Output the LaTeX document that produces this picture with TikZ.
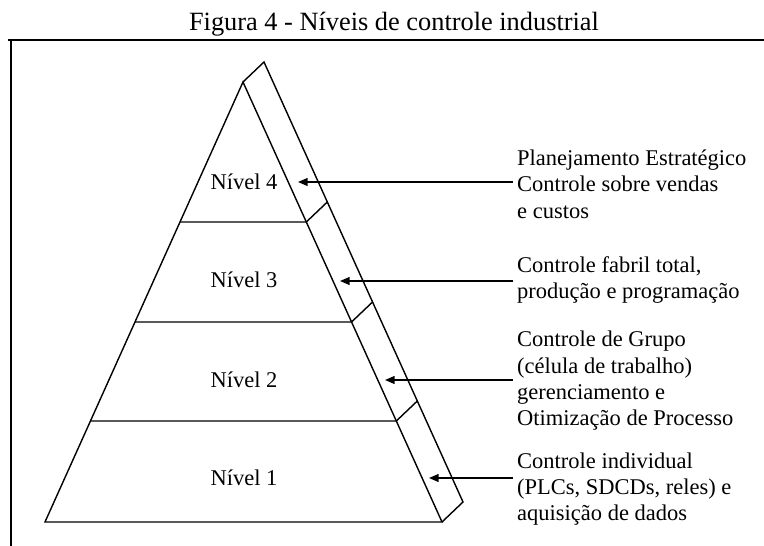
\documentclass[tikz,border=0pt]{standalone}
\usepackage{fontspec}
\setmainfont{Liberation Serif}
\usetikzlibrary{arrows.meta,calc}

\begin{document}
\begin{tikzpicture}[x=0.02cm,y=-0.02cm,line width=0.8pt,
        rotulo/.style = {anchor=west,align=left,inner xsep=2pt,inner ysep=0pt,font=\fontsize{12.8}{15}\selectfont},
        nivel/.style = {font=\fontsize{12.8}{15}\selectfont},
        seta/.style = {-{Triangle[length=5.5pt,width=4.5pt]}}]
    \useasboundingbox (0,0) rectangle (764,546);
    % moldura e titulo
    \draw [line width=1pt] (764,40) -- (8,40);
    \draw [line width=1pt] (11,40) -- (11,546);
    \node [font=\fontsize{15}{18}\selectfont] (titulo) at (394,24) {Figura 4 - Níveis de controle industrial};
    % piramide
    \coordinate (topo) at (243,82);
    \coordinate (base e) at (45,522);
    \coordinate (base d) at (442,522);
    \draw (base e) -- (topo) -- (base d) -- cycle;
    \draw (topo) -- ++(21,-20) -- ($(base d)+(21,-20)$) -- (base d);
    \foreach \y in {222,322,421} {
        \pgfmathsetmacro\xe{243-(\y-82)/440*198}
        \pgfmathsetmacro\xd{243+(\y-82)/440*199}
        \draw (\xe,\y) -- (\xd,\y) -- ++(21,-20);
    }
    \node [nivel] (nivel4) at (244,182) {Nível 4};
    \node [nivel] (nivel3) at (244,280) {Nível 3};
    \node [nivel] (nivel2) at (244,380) {Nível 2};
    \node [nivel] (nivel1) at (244,478) {Nível 1};
    % descricoes
    \node [rotulo] (desc4) at (513,184) {Planejamento Estratégico\\Controle sobre vendas\\e custos};
    \node [rotulo] (desc3) at (513,280) {Controle fabril total,\\produção e programação};
    \node [rotulo] (desc2) at (513,381) {Controle de Grupo\\(célula de trabalho)\\gerenciamento e\\Otimização de Processo};
    \node [rotulo] (desc1) at (513,489) {Controle individual\\(PLCs, SDCDs, reles) e\\aquisição de dados};
    \coordinate (ponta4) at (298,182);
    \coordinate (ponta3) at (340,281);
    \coordinate (ponta2) at (385,380);
    \coordinate (ponta1) at (429,478);
    \foreach \n in {1,...,4}
        \draw [seta] (desc\n.west |- ponta\n) -- (ponta\n);
\end{tikzpicture}
\end{document}
